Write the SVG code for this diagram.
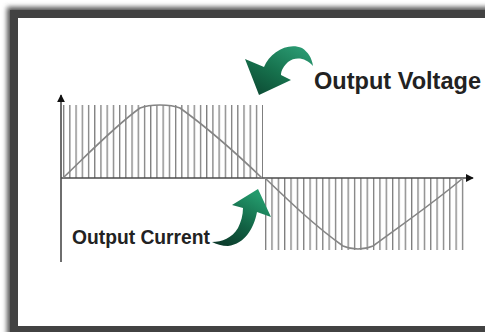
<svg xmlns="http://www.w3.org/2000/svg" width="485" height="332" viewBox="0 0 485 332">
<defs>
<style>
.axis{stroke:#4a4a4a;stroke-width:1.6;fill:none}
.wave{stroke:#858585;stroke-width:1.6;fill:none}
.lbl{font-family:"Liberation Sans Narrow","Liberation Sans",Arial,sans-serif;font-weight:bold;fill:#222}
</style>
<filter id="blur" x="-10%" y="-10%" width="120%" height="120%"><feGaussianBlur stdDeviation="2.5"/></filter>
<pattern id="pos" x="63" y="0" width="6.22" height="10" patternUnits="userSpaceOnUse"><rect x="0" y="0" width="1.3" height="10" fill="#7e7e7e"/></pattern>
<pattern id="neg" x="265" y="0" width="6.35" height="10" patternUnits="userSpaceOnUse"><rect x="0" y="0" width="1.3" height="10" fill="#7e7e7e"/></pattern>
<linearGradient id="g1" x1="0" y1="1" x2="0.8" y2="0"><stop offset="0" stop-color="#0b4530"/><stop offset="0.5" stop-color="#16704c"/><stop offset="1" stop-color="#2a9a72"/></linearGradient>
<linearGradient id="g2" x1="0" y1="1" x2="0.6" y2="0"><stop offset="0" stop-color="#0a3326"/><stop offset="0.5" stop-color="#126244"/><stop offset="1" stop-color="#239a6c"/></linearGradient>
<marker id="ah" viewBox="0 0 10 10" refX="9" refY="5" markerWidth="5" markerHeight="5" orient="auto"><path d="M0,0 L10,5 L0,10 Z" fill="#111"/></marker>
</defs>
<rect width="485" height="332" fill="#fff"/>
<rect x="7" y="7" width="500" height="330" fill="#555" filter="url(#blur)"/>
<rect x="14" y="14" width="500" height="316" fill="#fff" stroke="#424242" stroke-width="8"/>
<g id="pwm-positive">
<rect x="63" y="105" width="200" height="73" fill="url(#pos)"/>
</g>
<g id="pwm-negative">
<rect x="265" y="178" width="199" height="72" fill="url(#neg)"/>
</g>
<g id="connectors">
<line class="axis" x1="61" y1="262" x2="61" y2="95" marker-end="url(#ah)"/>
<line class="axis" x1="61" y1="178" x2="473" y2="178" marker-end="url(#ah)"/>
<path class="wave" d="M63,178 C90,152 115,126 140,108 C150,104 170,104 180,108 C205,126 235,152 262,178"/>
<path class="wave" d="M265,178 C290,202 315,226 343,246 C352,250 364,250 373,246 C400,226 435,202 463,178"/>
</g>
<g id="voltage-arrow">
<path d="M259,95 L245,59 L264,67 C270,52 288,42 302,48 C308,52 312,58 313,66 C306,58 296,56 288,62 C284,66 281,70 281,75 L291,80 Z" fill="url(#g1)"/>
</g>
<g id="current-arrow">
<path d="M258,189 L271,217 L257,212 C254,228 245,244 228,246 C222,246 216,244 212,242 C222,242 232,238 238,228 C241,222 243,215 243,208 L232,205 Z" fill="url(#g2)"/>
</g>
<g id="label-voltage">
<text class="lbl" x="314" y="89" font-size="23" textLength="167" lengthAdjust="spacingAndGlyphs">Output Voltage</text>
</g>
<g id="label-current">
<text class="lbl" x="72" y="244" font-size="20" textLength="138" lengthAdjust="spacingAndGlyphs">Output Current</text>
</g>
</svg>
